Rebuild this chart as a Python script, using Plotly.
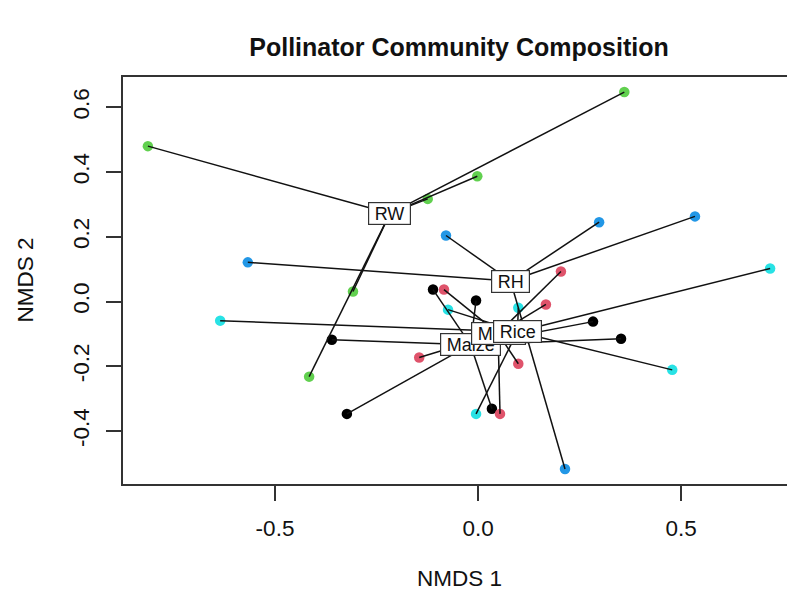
import plotly.graph_objects as go

# Group names (drawing order of labels) and colours
groups = ["Maize", "Millet", "RH", "Rice", "RW"]
colors = {"Maize": "#000000", "Millet": "#DF536B", "RW": "#61D04F",
          "RH": "#2297E6", "Rice": "#28E2E5"}

# NMDS site scores per group
maize_x = [-0.111, -0.005, -0.360, -0.323, 0.034, 0.283, 0.352]
maize_y = [0.037, 0.003, -0.118, -0.347, -0.331, -0.062, -0.115]

millet_x = [-0.084, 0.204, 0.167, -0.145, 0.099, 0.054]
millet_y = [0.037, 0.093, -0.009, -0.173, -0.192, -0.347]

rh_x = [-0.567, -0.079, 0.298, 0.534, 0.214]
rh_y = [0.121, 0.204, 0.245, 0.263, -0.517]

rice_x = [-0.635, -0.074, 0.099, -0.005, 0.478, 0.719]
rice_y = [-0.059, -0.025, -0.019, -0.347, -0.211, 0.102]

rw_x = [-0.813, 0.360, -0.002, -0.124, -0.308, -0.416]
rw_y = [0.480, 0.647, 0.387, 0.317, 0.031, -0.232]

data = {"Maize": (maize_x, maize_y), "Millet": (millet_x, millet_y),
        "RH": (rh_x, rh_y), "Rice": (rice_x, rice_y), "RW": (rw_x, rw_y)}

x_ticks = [-0.5, 0.0, 0.5]
x_ticklabels = ["-0.5", "0.0", "0.5"]
y_ticks = [-0.4, -0.2, 0.0, 0.2, 0.4, 0.6]
y_ticklabels = ["-0.4", "-0.2", "0.0", "0.2", "0.4", "0.6"]

FONT = "Liberation Sans, Arial, Helvetica, sans-serif"
W, H = 787, 599
ML, MT, MB = 123, 77, 115
FULL_PLOT_W = 672  # R plot region width (extends past the window)
PW = W - ML
PH = H - MT - MB

fig = go.Figure()

# points
for g in ["Maize", "Millet", "RW", "RH", "Rice"]:
    xs, ys = data[g]
    fig.add_trace(go.Scatter(x=xs, y=ys, mode="markers",
                             marker=dict(size=10.5, color=colors[g], line=dict(width=0)),
                             showlegend=False, hoverinfo="skip"))

# spiders
centroids = {}
for g in ["Maize", "Millet", "RW", "RH", "Rice"]:
    xs, ys = data[g]
    cx = sum(xs) / len(xs)
    cy = sum(ys) / len(ys)
    centroids[g] = (cx, cy)
    lx, ly = [], []
    for a, b in zip(xs, ys):
        lx += [cx, a, None]
        ly += [cy, b, None]
    fig.add_trace(go.Scatter(x=lx, y=ly, mode="lines",
                             line=dict(color="#111111", width=1.5),
                             showlegend=False, hoverinfo="skip"))

# labels
for g in groups:
    cx, cy = centroids[g]
    fig.add_annotation(x=cx, y=cy, text="\u00a0" + g + "\u00a0", showarrow=False,
                       font=dict(family=FONT, size=18, color="#111111"),
                       bgcolor="white", bordercolor="#333333", borderwidth=1.2,
                       borderpad=0.5, xanchor="center", yanchor="middle")

# axis titles (centred on the R plot region)
fig.add_annotation(xref="paper", yref="paper", x=(FULL_PLOT_W / 2) / PW,
                   y=-(578 - (MT + PH)) / PH, text="NMDS 1", showarrow=False,
                   xanchor="center", yanchor="middle",
                   font=dict(family=FONT, size=22.5, color="#111111"))
fig.add_annotation(xref="paper", yref="paper", x=-(ML - 25) / PW, y=0.5,
                   text="NMDS 2", showarrow=False, textangle=-90,
                   xanchor="center", yanchor="middle",
                   font=dict(family=FONT, size=22.5, color="#111111"))

# axis ranges, R style (4% padding)
allx = [v for g in groups for v in data[g][0]]
ally = [v for g in groups for v in data[g][1]]
xr = max(allx) - min(allx)
yr = max(ally) - min(ally)
x0, x1 = min(allx) - 0.04 * xr, max(allx) + 0.04 * xr
y0, y1 = min(ally) - 0.04 * yr, max(ally) + 0.04 * yr
x1_vis = x0 + (x1 - x0) * PW / FULL_PLOT_W

axis_common = dict(showgrid=False, zeroline=False, showline=True, linecolor="#333333",
                   linewidth=1.5, ticks="outside", ticklen=15, tickwidth=1.5,
                   tickcolor="#333333",
                   tickfont=dict(family=FONT, size=22.5, color="#111111"))

fig.update_layout(
    width=W, height=H,
    margin=dict(l=ML, r=0, t=MT, b=MB),
    paper_bgcolor="white", plot_bgcolor="white",
    title=dict(text="<b>Pollinator Community Composition</b>",
               x=(ML + FULL_PLOT_W / 2) / W, xanchor="center", y=1 - 47 / H, yanchor="middle",
               font=dict(family=FONT, size=25, color="#111111")),
    xaxis=dict(range=[x0, x1_vis], tickvals=x_ticks, ticktext=x_ticklabels,
               mirror=True, ticklabelstandoff=8, **axis_common),
    yaxis=dict(range=[y0, y1], tickvals=y_ticks, ticktext=y_ticklabels,
               tickangle=-90, ticklabelstandoff=8, **axis_common),
)

fig.write_html("out.html")
